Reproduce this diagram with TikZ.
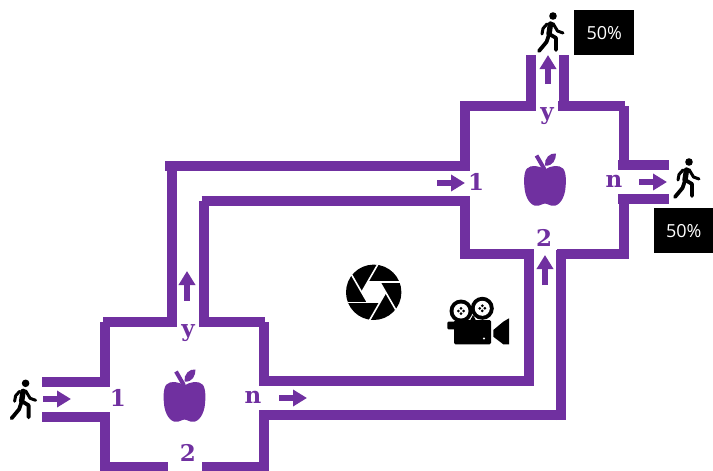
\documentclass[tikz,border=0pt]{standalone}
\usepackage{fontspec}
\setmainfont{DejaVu Serif}
\newfontfamily\boxfont{Open Sans}
\usetikzlibrary{arrows.meta}
\definecolor{pur}{HTML}{7030A0}
\tikzset{
  wall/.style={draw=pur,line width=10pt,line cap=butt},
  flow/.style={draw=pur,line width=5.5pt,-{Triangle[length=14pt,width=16pt]},shorten >=0pt},
  lab/.style={text=pur,font=\fontsize{23}{23}\selectfont\bfseries,inner sep=0pt},
  pct/.style={fill=black,text=white,font=\boxfont\fontsize{18}{18}\selectfont,inner sep=0pt,anchor=north west},
  apple/.pic={
    \fill[pur] (0,-36) .. controls (6,-40) and (14,-41) .. (18,-37)
      .. controls (22,-33) and (21,-20) .. (20,-14)
      .. controls (18,-4) and (12,2) .. (6,0)
      .. controls (3,-1) and (1,-2) .. (0,-2)
      .. controls (-1,-2) and (-3,-1) .. (-6,0)
      .. controls (-12,2) and (-18,-4) .. (-20,-14)
      .. controls (-21,-20) and (-22,-33) .. (-18,-37)
      .. controls (-14,-41) and (-6,-40) .. (0,-36) -- cycle;
    \draw[pur,line width=4pt] (-8.5,-50) -- (-1,-37) -- (-0.5,-34);
    \fill[pur] (0,-40) .. controls (-1,-47) and (5,-53) .. (11,-52)
      .. controls (11,-46) and (8,-39) .. (0,-40) -- cycle;
  },
  walker/.pic={
    \fill[black] (0,0) circle (3.8);
    \draw[black,line width=5.4pt,line cap=round,line join=round] (-2.5,8) -- (-4,18);
    \draw[black,line width=3.8pt,line cap=round,line join=round] (-3.7,18) -- (3,22) -- (3,34);
    \draw[black,line width=3.8pt,line cap=round,line join=round] (-4.5,20) -- (-6.5,26) -- (-14,35);
    \draw[black,line width=3pt,line cap=round,line join=round] (0,7.5) -- (4.5,15) -- (10,17);
    \draw[black,line width=3pt,line cap=round,line join=round] (-6,8) -- (-10,12.5) -- (-11,18);
  },
}
\begin{document}
\begin{tikzpicture}[x=1pt,y=-1pt]
\useasboundingbox (0,0) rectangle (713,471);
% lower room
\draw[wall] (42,381.5) -- (110,381.5);
\draw[wall] (42,417) -- (110,417);
\draw[wall] (105,322) -- (105,386);
\draw[wall] (105,412) -- (105,471);
\draw[wall] (103,322) -- (168,322);
\draw[wall] (203,322) -- (265,322);
\draw[wall] (264,322) -- (264,385);
\draw[wall] (264,411) -- (264,471);
\draw[wall] (100,467) -- (168,467);
\draw[wall] (202,467) -- (269,467);
% connecting corridors
\draw[wall] (172,327) -- (172,170);
\draw[wall] (204,327) -- (204,201);
\draw[wall] (165,165.5) -- (470,165.5);
\draw[wall] (201.5,201) -- (470,201);
\draw[wall] (259,380.5) -- (534,380.5);
\draw[wall] (259,415) -- (566,415);
\draw[wall] (529,385) -- (529,250);
\draw[wall] (561,420) -- (561,250);
% upper room
\draw[wall] (465,101) -- (465,170);
\draw[wall] (465,196) -- (465,259);
\draw[wall] (463,105.5) -- (536,105.5);
\draw[wall] (558,105.5) -- (625,105.5);
\draw[wall] (531,55) -- (531,110);
\draw[wall] (563.5,55) -- (563.5,110);
\draw[wall] (623.5,106) -- (623.5,170);
\draw[wall] (623.5,194) -- (623.5,259);
\draw[wall] (618,164.5) -- (669,164.5);
\draw[wall] (618,199) -- (669,199);
\draw[wall] (460,254) -- (534,254);
\draw[wall] (557,254) -- (629,254);
% flow arrows
\coordinate (a1) at (43,399); \coordinate (a2) at (71,399);
\coordinate (b1) at (279,398); \coordinate (b2) at (307,398);
\coordinate (c1) at (187,301); \coordinate (c2) at (187,271);
\coordinate (d1) at (437,183); \coordinate (d2) at (465,183);
\coordinate (e1) at (639,182); \coordinate (e2) at (667,182);
\coordinate (f1) at (548,84); \coordinate (f2) at (548,55);
\coordinate (g1) at (545,285); \coordinate (g2) at (545,255);
\foreach \p/\q in {a1/a2,b1/b2,c1/c2,d1/d2,e1/e2,f1/f2,g1/g2}
  \draw[flow] (\p) -- (\q);
% labels
\node[lab] (l1) at (118,398) {1};
\node[lab] (ly) at (188,333) {y};
\node[lab] (ln) at (253,397) {n};
\node[lab] (l2) at (188,453) {2};
\node[lab] (u1) at (476,182) {1};
\node[lab] (uy) at (547,116) {y};
\node[lab] (un) at (614,181) {n};
\node[lab] (u2) at (544,238) {2};
% percentage boxes
\node[pct,minimum width=60pt,minimum height=45pt] (p1) at (574,10) {50\%};
\node[pct,minimum width=59pt,minimum height=45pt] (p2) at (654,208) {50\%};
% icons
\pic at (184.5,421.5) {apple};
\pic at (545,205.5) {apple};
\pic at (25.6,383.3) {walker};
\pic at (553,16) {walker};
\pic at (689,162) {walker};
% aperture
\fill[black] (373.7,292.3) circle (27.7);
\foreach \a in {0,60,...,300}
  \draw[white,line width=1.6pt] ({373.7+12*cos(\a)},{292.3+12*sin(\a)}) -- ({373.7+12*cos(\a)+32*cos(\a+120)},{292.3+12*sin(\a)+32*sin(\a+120)});
\fill[white] (385.7,292.3) -- (379.7,302.7) -- (367.7,302.7) -- (361.7,292.3) -- (367.7,281.9) -- (379.7,281.9) -- cycle;
% movie camera
\fill[black] (461,311) circle (11.5);
\fill[black] (482.3,308.3) circle (11.5);
\fill[white] (461,311) circle (7.5);
\fill[white] (482.3,308.3) circle (7.5);
\foreach \c/\d in {461/311,482.3/308.3}{
  \fill[black] (\c-2.6,\d) circle (1.5);
  \fill[black] (\c+2.6,\d) circle (1.5);
  \fill[black] (\c,\d-2.6) circle (1.5);
  \fill[black] (\c,\d+2.6) circle (1.5);
}
\fill[black,rounded corners=1.5pt] (454,320) rectangle (491,344.3);
\fill[black] (470,320.5) -- (473,315) -- (476,320.5) -- cycle;
\fill[black,rounded corners=1pt] (447.3,321.7) rectangle (455,329.3);
\fill[black] (493.3,330) -- (503.3,321.7) -- (509,318.3) -- (509,344.3) -- (503.3,344.3) -- (493.3,336.7) -- cycle;
\fill[white] (484,338.5) circle (1.2);
\end{tikzpicture}
\end{document}
